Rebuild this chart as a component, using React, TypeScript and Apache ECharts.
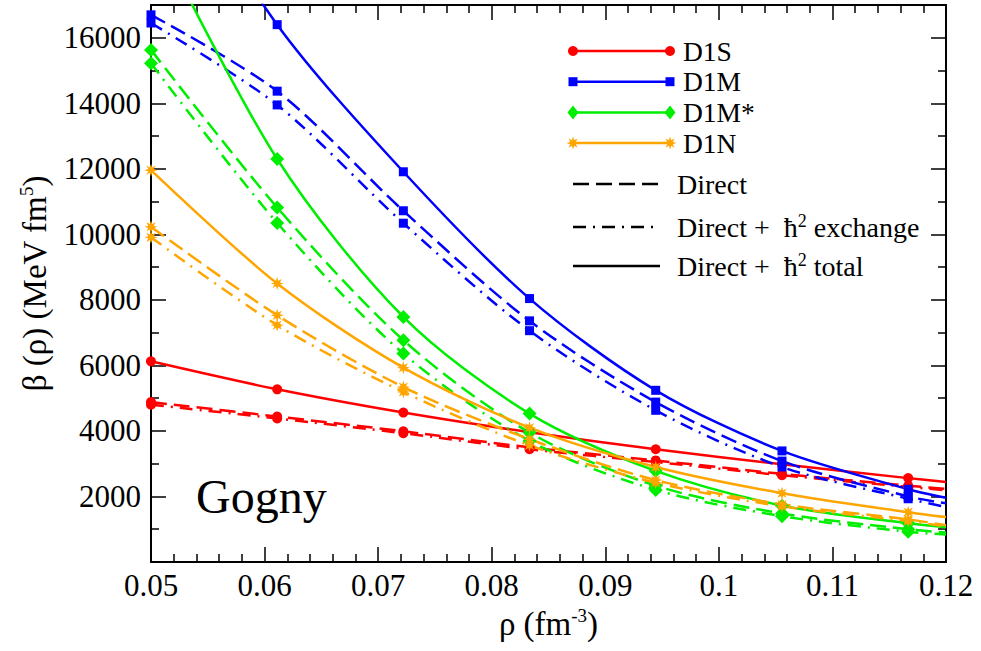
import React, { useEffect, useRef } from "react";
import * as echarts from "echarts";

// density points (fm^-3) where markers are drawn
const RHO = [0.05, 0.06111, 0.07222, 0.08333, 0.09444, 0.10556, 0.11667];
const RHO_END = 0.12;

// beta(rho) values (MeV fm^5) at RHO, plus the curve end value at RHO_END
const D1S_DIRECT = [4880, 4440, 3990, 3500, 3100, 2690, 2330];
const D1S_DIRECT_END = 2230;
const D1S_EXCH = [4800, 4380, 3930, 3440, 3050, 2650, 2290];
const D1S_EXCH_END = 2190;
const D1S_TOTAL = [6125, 5270, 4560, 3960, 3440, 2980, 2560];
const D1S_TOTAL_END = 2440;

const D1M_DIRECT = [16700, 14370, 10720, 7360, 4880, 3080, 2000];
const D1M_DIRECT_END = 1790;
const D1M_EXCH = [16450, 13950, 10340, 7060, 4630, 2900, 1930];
const D1M_EXCH_END = 1680;
const D1M_TOTAL = [22500, 16400, 11910, 8040, 5240, 3390, 2220];
const D1M_TOTAL_END = 1960;

const D1MS_DIRECT = [15630, 10820, 6770, 3950, 2330, 1480, 1000];
const D1MS_DIRECT_END = 900;
const D1MS_EXCH = [15220, 10350, 6360, 3700, 2200, 1400, 920];
const D1MS_EXCH_END = 840;
const D1MS_TOTAL = [19500, 12300, 7480, 4530, 2780, 1720, 1180];
const D1MS_TOTAL_END = 1060;

const D1N_DIRECT = [10230, 7530, 5340, 3750, 2500, 1760, 1300];
const D1N_DIRECT_END = 1120;
const D1N_EXCH = [9910, 7230, 5190, 3560, 2420, 1700, 1250];
const D1N_EXCH_END = 1080;
const D1N_TOTAL = [11960, 8500, 5930, 4100, 2900, 2100, 1520];
const D1N_TOTAL_END = 1370;

const LEGEND_NAMES = ["D1S", "D1M", "D1M*", "D1N"];

const X_MIN = 0.05;
const X_MAX = 0.12;
const X_STEP = 0.01;
const Y_MIN = 0;
const Y_MAX = 17000;
const Y_STEP = 2000;

const RED = "#ff0000";
const BLUE = "#0000ff";
const GREEN = "#00ee00";
const ORANGE = "#ffa500";
const FONT = "Liberation Serif";

const DASH = [16, 7];
const DASHDOT = [13, 7, 2, 7];

function starPoints(cx: number, cy: number, r1: number, r2: number, n = 8) {
  const pts: number[][] = [];
  for (let i = 0; i < n * 2; i++) {
    const r = i % 2 === 0 ? r1 : r2;
    const a = (Math.PI * i) / n - Math.PI / 2;
    pts.push([cx + r * Math.cos(a), cy + r * Math.sin(a)]);
  }
  return pts;
}
const STAR_PATH =
  "path://" +
  starPoints(10, 10, 10, 4.5)
    .map((p, i) => (i === 0 ? "M" : "L") + p[0].toFixed(2) + " " + p[1].toFixed(2))
    .join(" ") +
  " Z";

type Def = {
  name: string;
  color: string;
  symbol: string;
  size: number;
  direct: number[];
  directEnd: number;
  exch: number[];
  exchEnd: number;
  total: number[];
  totalEnd: number;
};

const DEFS: Def[] = [
  { name: LEGEND_NAMES[0], color: RED, symbol: "circle", size: 10, direct: D1S_DIRECT, directEnd: D1S_DIRECT_END, exch: D1S_EXCH, exchEnd: D1S_EXCH_END, total: D1S_TOTAL, totalEnd: D1S_TOTAL_END },
  { name: LEGEND_NAMES[1], color: BLUE, symbol: "rect", size: 9, direct: D1M_DIRECT, directEnd: D1M_DIRECT_END, exch: D1M_EXCH, exchEnd: D1M_EXCH_END, total: D1M_TOTAL, totalEnd: D1M_TOTAL_END },
  { name: LEGEND_NAMES[2], color: GREEN, symbol: "diamond", size: 14, direct: D1MS_DIRECT, directEnd: D1MS_DIRECT_END, exch: D1MS_EXCH, exchEnd: D1MS_EXCH_END, total: D1MS_TOTAL, totalEnd: D1MS_TOTAL_END },
  { name: LEGEND_NAMES[3], color: ORANGE, symbol: STAR_PATH, size: 13, direct: D1N_DIRECT, directEnd: D1N_DIRECT_END, exch: D1N_EXCH, exchEnd: D1N_EXCH_END, total: D1N_TOTAL, totalEnd: D1N_TOTAL_END },
];

function buildData(vals: number[], end: number) {
  const d: any[] = vals.map((v, i) =>
    v > Y_MAX ? { value: [RHO[i], v], symbol: "none" } : [RHO[i], v]
  );
  d.push({ value: [RHO_END, end], symbol: "none" });
  return d;
}

function buildSeries() {
  const out: any[] = [];
  DEFS.forEach((d) => {
    const variants: [string, number[], number, any][] = [
      ["Direct", d.direct, d.directEnd, DASH],
      ["Direct + exchange", d.exch, d.exchEnd, DASHDOT],
      ["Direct + total", d.total, d.totalEnd, "solid"],
    ];
    variants.forEach(([label, vals, end, lt]) => {
      out.push({
        name: d.name + " " + label,
        type: "line",
        xAxisIndex: 0,
        yAxisIndex: 0,
        smooth: 0.3,
        showAllSymbol: true,
        symbol: d.symbol,
        symbolSize: d.size,
        clip: true,
        itemStyle: { color: d.color },
        lineStyle: { color: d.color, width: 2.5, type: lt },
        data: buildData(vals, end),
      });
    });
  });
  return out;
}

function legendGraphic() {
  const els: any[] = [];
  const x1 = 573;
  const x2 = 670;
  const rowTop = 51;
  const rowStep = 30.7;
  DEFS.forEach((d, i) => {
    const y = rowTop + i * rowStep;
    els.push({ type: "line", shape: { x1, y1: y, x2, y2: y }, style: { stroke: d.color, lineWidth: 2.5 } });
    [x1, x2].forEach((cx) => {
      if (d.symbol === "circle") {
        els.push({ type: "circle", shape: { cx, cy: y, r: 5 }, style: { fill: d.color } });
      } else if (d.symbol === "rect") {
        els.push({ type: "rect", shape: { x: cx - 4.5, y: y - 4.5, width: 9, height: 9 }, style: { fill: d.color } });
      } else if (d.symbol === "diamond") {
        els.push({ type: "polygon", shape: { points: [[cx, y - 7], [cx + 5.5, y], [cx, y + 7], [cx - 5.5, y]] }, style: { fill: d.color } });
      } else {
        els.push({ type: "polygon", shape: { points: starPoints(cx, y, 6.5, 3) }, style: { fill: d.color } });
      }
    });
    els.push({
      type: "text",
      x: 683,
      y,
      style: {
        text: d.name,
        fontSize: 27.5,
        fontFamily: FONT,
        fill: "#000",
        verticalAlign: "middle",
        align: "left",
      },
    });
  });
  const rich = {
    a: { fontSize: 28, fontFamily: FONT, lineHeight: 30 },
    sup: { fontSize: 18, fontFamily: FONT, verticalAlign: "top", lineHeight: 30 },
  };
  const blackRows: [number, any, number, string][] = [
    [184, DASH, 658, "{a|Direct}"],
    [227, DASHDOT, 660, "{a|Direct +  ħ}{sup|2}{a| exchange}"],
    [266, "solid", 660, "{a|Direct +  ħ}{sup|2}{a| total}"],
  ];
  blackRows.forEach(([y, dash, xe, txt]) => {
    els.push({ type: "line", shape: { x1: 573, y1: y, x2: xe, y2: y }, style: { stroke: "#000", lineWidth: 2.5, lineDash: dash === "solid" ? null : dash } });
    els.push({
      type: "text",
      x: 677,
      y,
      style: { text: txt, fontSize: 28, fontFamily: FONT, fill: "#000", verticalAlign: "middle", align: "left", lineHeight: 30, rich },
    });
  });
  els.push({
    type: "text",
    x: 196,
    y: 496,
    style: { text: "Gogny", fontSize: 48, fontFamily: FONT, fill: "#000", verticalAlign: "middle", align: "left" },
  });
  return els;
}

function fmtX(v: number) {
  return String(parseFloat(v.toFixed(4)));
}

export default function App() {
  const ref = useRef<HTMLDivElement>(null);
  useEffect(() => {
    if (!ref.current) return;
    const chart = echarts.init(ref.current, undefined, { renderer: "svg" });
    const axisLine = { show: true, onZero: false, lineStyle: { color: "#000", width: 2 } };
    const tick = { show: true, inside: true, length: 15, lineStyle: { color: "#000", width: 1.5 } };
    const minor = (n: number) => ({ show: true, splitNumber: n, length: 8, lineStyle: { color: "#000", width: 1.5 } });
    const xBase = {
      type: "value",
      min: X_MIN,
      max: X_MAX,
      interval: X_STEP,
      axisLine,
      axisTick: tick,
      minorTick: minor(5),
      splitLine: { show: false },
      minorSplitLine: { show: false },
    };
    const yBase = {
      type: "value",
      min: Y_MIN,
      max: Y_MAX,
      interval: Y_STEP,
      axisLine,
      axisTick: tick,
      minorTick: minor(2),
      splitLine: { show: false },
      minorSplitLine: { show: false },
    };
    const nameRich = {
      a: { fontSize: 33, fontFamily: FONT, color: "#000", lineHeight: 36 },
      sup: { fontSize: 19, fontFamily: FONT, color: "#000", verticalAlign: "top", lineHeight: 36 },
    };
    chart.setOption({
      animation: false,
      backgroundColor: "#fff",
      grid: { left: 151, top: 5, width: 795, height: 557, containLabel: false },
      xAxis: [
        {
          ...xBase,
          position: "bottom",
          axisLabel: { show: true, margin: 8, fontSize: 31, fontFamily: FONT, color: "#000", formatter: fmtX },
          name: "{a|ρ (fm}{sup|-3}{a|)}",
          nameLocation: "middle",
          nameGap: 42,
          nameTextStyle: { fontSize: 33, fontFamily: FONT, color: "#000", lineHeight: 36, rich: nameRich },
        },
        { ...xBase, position: "top", axisLabel: { show: false } },
      ],
      yAxis: [
        {
          ...yBase,
          position: "left",
          axisLabel: {
            show: true,
            margin: 10,
            fontSize: 31,
            fontFamily: FONT,
            color: "#000",
            formatter: (v: number) => (v <= 0 || v > 16000 ? "" : String(v)),
          },
          name: "{a|β (ρ) (MeV fm}{sup|5}{a|)}",
          nameLocation: "middle",
          nameGap: 98,
          nameRotate: 90,
          nameTextStyle: { fontSize: 33, fontFamily: FONT, color: "#000", lineHeight: 36, rich: nameRich },
        },
        { ...yBase, position: "right", axisLabel: { show: false } },
      ],
      series: buildSeries(),
      graphic: legendGraphic(),
    });
    return () => chart.dispose();
  }, []);
  return (
    <div
      ref={ref}
      style={{ position: "fixed", left: 0, top: 0, width: 981, height: 651, background: "#fff" }}
    />
  );
}
